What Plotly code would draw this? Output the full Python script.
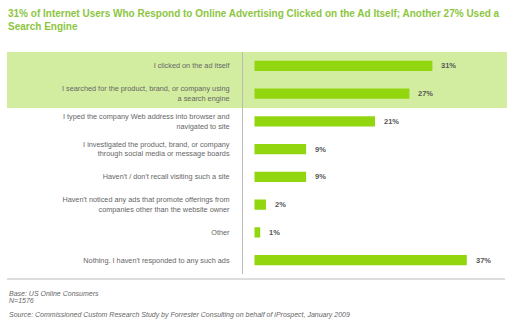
import plotly.graph_objects as go

categories = [
    "I clicked on the ad itself",
    "I searched for the product, brand, or company using<br>a search engine",
    "I typed the company Web address into browser and<br>navigated to site",
    "I investigated the product, brand, or company<br>through social media or message boards",
    "Haven't / don't recall visiting such a site",
    "Haven't noticed any ads that promote offerings from<br>companies other than the website owner",
    "Other",
    "Nothing. I haven't responded to any such ads",
]
values = [31, 27, 21, 9, 9, 2, 1, 37]
value_labels = ["31%", "27%", "21%", "9%", "9%", "2%", "1%", "37%"]

title_lines = ["31% of Internet Users Who Respond to Online Advertising Clicked on the Ad Itself; Another 27% Used a",
               "Search Engine"]
base_lines = ["Base: US Online Consumers", "N=1576"]
source_note = "Source: Commissioned Custom Research Study by Forrester Consulting on behalf of iProspect, January 2009"

W, H = 525, 328
L, R, T, B = 243, 18, 52, 54
pw = W - L - R
ph = H - T - B

def px(xp):
    return (xp - L) / pw

def py(yp):
    return (H - B - yp) / ph

FONT = "Arial, Liberation Sans, sans-serif"

fig = go.Figure()
fig.add_trace(go.Bar(
    x=values, y=categories, orientation="h",
    marker=dict(color="#92d610", line=dict(width=0)),
    width=0.37, hoverinfo="skip",
))

annotations = []
for c, v, t in zip(categories, values, value_labels):
    annotations.append(dict(x=v, y=c, xref="x", yref="y", text="<b>%s</b>" % t,
                            showarrow=False, xanchor="left", xshift=7,
                            font=dict(family=FONT, size=7.5, color="#555555")))

for txt, yy in zip(title_lines, [13, 26]):
    annotations.append(dict(x=px(6), y=py(yy), xref="paper", yref="paper", text="<b>%s</b>" % txt,
                            showarrow=False, xanchor="left", yanchor="middle", align="left",
                            font=dict(family=FONT, size=10, color="#8cc63f")))

for txt, yy in zip(base_lines, [293, 300]):
    annotations.append(dict(x=px(7), y=py(yy), xref="paper", yref="paper", text="<i>%s</i>" % txt,
                            showarrow=False, xanchor="left", yanchor="middle", align="left",
                            font=dict(family=FONT, size=7, color="#666666")))
annotations.append(dict(x=px(7), y=py(315), xref="paper", yref="paper", text="<i>%s</i>" % source_note,
                        showarrow=False, xanchor="left", yanchor="middle", align="left",
                        font=dict(family=FONT, size=7, color="#666666")))

shapes = [
    dict(type="rect", xref="paper", yref="paper", x0=px(7), x1=px(507), y0=py(108), y1=py(52),
         fillcolor="#d3eda0", line=dict(width=0), layer="below"),
    dict(type="line", xref="paper", yref="paper", x0=px(7), x1=px(505), y0=py(279), y1=py(279),
         line=dict(color="#bbbbbb", width=1.2)),
]

fig.update_layout(
    width=W, height=H,
    margin=dict(l=L, r=R, t=T, b=B),
    paper_bgcolor="white", plot_bgcolor="rgba(0,0,0,0)",
    showlegend=False,
    xaxis=dict(range=[-2, 44], showgrid=False, zeroline=False, showticklabels=False, fixedrange=True),
    yaxis=dict(autorange="reversed", showgrid=False, zeroline=False, showline=True,
               linecolor="#bbbbbb", linewidth=1,
               ticks="outside", ticklen=11, tickcolor="rgba(0,0,0,0)",
               tickfont=dict(family=FONT, size=7.3, color="#666666")),
    annotations=annotations,
    shapes=shapes,
    bargap=0.6,
)

fig.write_html("out.html")
